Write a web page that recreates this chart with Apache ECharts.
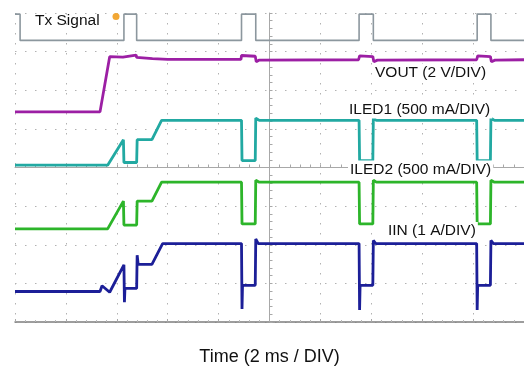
<!DOCTYPE html>
<html>
<head>
<meta charset="utf-8">
<script src="https://cdn.jsdelivr.net/npm/echarts@6/dist/echarts.min.js"></script>
<style>
  html, body { margin: 0; padding: 0; background: #fff; }
  #main { width: 524px; height: 371px; }
</style>
</head>
<body>
<div id="main"></div>
<script>
// time in divisions (-5..5), level in divisions (-4..4)
var txSignal = [[-5,3.97],[-4.9,3.97],[-4.9,3.29],[-2.86,3.29],[-2.86,3.97],[-2.61,3.97],[-2.61,3.29],
    [-0.55,3.29],[-0.55,3.97],[-0.27,3.97],[-0.27,3.29],[1.76,3.29],[1.76,3.97],[2.04,3.97],[2.04,3.29],
    [4.08,3.29],[4.08,3.97],[4.35,3.97],[4.35,3.29],[5,3.29]];
var vout = [[-5,1.44],[-3.33,1.44],[-3.14,2.87],[-2.88,2.86],[-2.86,2.91],[-2.62,2.91],[-2.61,2.85],
    [-2.3,2.82],[-2.0,2.8],[-0.56,2.8],[-0.55,2.9],[-0.28,2.88],[-0.26,2.74],[-0.2,2.78],[1.75,2.79],
    [1.77,2.89],[2.03,2.87],[2.05,2.74],[2.12,2.78],[4.07,2.79],[4.09,2.89],[4.34,2.87],[4.36,2.74],
    [4.43,2.78],[5,2.79]];
var iled1 = [[-5,0.06],[-3.18,0.06],[-2.87,0.72],[-2.86,0.13],[-2.61,0.13],[-2.6,0.72],[-2.31,0.72],
    [-2.12,1.22],[-0.55,1.22],[-0.54,0.18],[-0.28,0.18],[-0.27,1.28],[-0.2,1.22],[1.76,1.22],[1.77,0.18],
    [2.03,0.18],[2.04,1.28],[2.1,1.22],[4.07,1.22],[4.08,0.18],[4.34,0.18],[4.35,1.28],[4.42,1.22],[5,1.22]];
var iled2 = [[-5,-1.59],[-3.18,-1.59],[-2.87,-0.87],[-2.86,-1.49],[-2.61,-1.49],[-2.6,-0.87],[-2.31,-0.87],
    [-2.12,-0.38],[-0.55,-0.38],[-0.54,-1.46],[-0.28,-1.46],[-0.27,-0.33],[-0.2,-0.38],[1.76,-0.38],
    [1.77,-1.46],[2.03,-1.46],[2.04,-0.33],[2.1,-0.38],[4.07,-0.38],[4.08,-1.46],[4.34,-1.46],[4.35,-0.33],
    [4.42,-0.38],[5,-0.38]];
var iin = [[-5,-3.21],[-3.33,-3.21],[-3.29,-3.06],[-3.14,-3.23],[-2.86,-2.52],[-2.85,-3.49],[-2.84,-3.13],
    [-2.61,-3.13],[-2.6,-2.27],[-2.58,-2.51],[-2.31,-2.51],[-2.1,-1.97],[-0.55,-1.97],[-0.54,-3.66],
    [-0.53,-3.05],[-0.28,-3.05],[-0.27,-1.85],[-0.22,-1.97],[1.76,-1.97],[1.77,-3.69],[1.78,-3.05],
    [2.03,-3.05],[2.04,-1.89],[2.09,-1.97],[4.07,-1.97],[4.08,-3.69],[4.09,-3.05],[4.34,-3.05],
    [4.35,-1.89],[4.4,-1.97],[5,-1.97]];
var traceNames = ['Tx', 'VOUT', 'ILED1', 'ILED2', 'IIN'];
var traceColors = ['#8c979e', '#9c1fa4', '#22a9a2', '#2db52a', '#1c1f98'];
var traceLabels = ['Tx Signal', 'VOUT (2 V/DIV)', 'ILED1 (500 mA/DIV)', 'ILED2 (500 mA/DIV)', 'IIN (1 A/DIV)'];
var timeLabel = 'Time (2 ms / DIV)';

var traces = [txSignal, vout, iled1, iled2, iin];
var FONT = '"Liberation Sans", Arial, sans-serif';

var myChart = echarts.init(document.getElementById('main'));

var seriesList = [];
for (var i in traces) {
    seriesList.push({
        name: traceNames[i],
        type: 'line',
        data: traces[i],
        showSymbol: false,
        symbol: 'none',
        clip: false,
        lineStyle: { color: traceColors[i], width: i == 0 ? 1.6 : 2.8 },
        z: 3
    });
}

// where each trace label sits on the screen
var labelPos = [[33, 21, false], [373, 72.5, true], [347, 109.5, true], [348, 169.5, true], [386, 231, true]];
var graphics = [];
for (var k in traceLabels) {
    graphics.push({
        type: 'text',
        x: labelPos[k][0],
        y: labelPos[k][1],
        z: 100,
        style: {
            text: traceLabels[k],
            font: '15.5px ' + FONT,
            fill: '#111',
            verticalAlign: 'middle',
            backgroundColor: labelPos[k][2] ? '#fff' : 'transparent',
            padding: [1, 2]
        }
    });
}
graphics.push({
    type: 'circle',
    shape: { cx: 116, cy: 16.5, r: 3.5 },
    style: { fill: '#f2a734' },
    z: 100
});

var dotted = { color: '#b2b2b2', width: 1, type: [1.5, 8.5] };

option = {
    animation: false,
    backgroundColor: '#fff',
    grid: { left: 15, top: 13, width: 510, height: 312 },
    graphic: graphics,
    xAxis: [{
        type: 'value', min: -5, max: 5, interval: 1,
        axisLine: { onZero: true, lineStyle: { color: '#a8a8a8', width: 1 } },
        axisTick: { show: true, length: 3, inside: true, lineStyle: { color: '#a8a8a8' } },
        minorTick: { show: true, splitNumber: 5, length: 3, lineStyle: { color: '#a8a8a8' } },
        axisLabel: { show: false },
        splitLine: { show: true, lineStyle: dotted }
    }, {
        type: 'value', min: -5, max: 5, interval: 1, position: 'bottom',
        axisLine: { onZero: false, lineStyle: { color: '#7d7d7d', width: 1.5 } },
        axisTick: { show: true, length: 3, inside: true, lineStyle: { color: '#a8a8a8' } },
        minorTick: { show: true, splitNumber: 5, length: 2, lineStyle: { color: '#b8b8b8' } },
        axisLabel: { show: false },
        splitLine: { show: false },
        name: timeLabel,
        nameLocation: 'middle',
        nameGap: 26,
        nameTextStyle: { fontSize: 18, color: '#111', fontFamily: FONT }
    }],
    yAxis: {
        type: 'value', min: -4, max: 4, interval: 1,
        axisLine: { onZero: true, lineStyle: { color: '#a8a8a8', width: 1 } },
        axisTick: { show: true, length: 3, inside: true, lineStyle: { color: '#a8a8a8' } },
        minorTick: { show: true, splitNumber: 5, length: 3, lineStyle: { color: '#a8a8a8' } },
        axisLabel: { show: false },
        splitLine: { show: true, lineStyle: dotted }
    },
    series: seriesList
};
myChart.setOption(option);
</script>
</body>
</html>
